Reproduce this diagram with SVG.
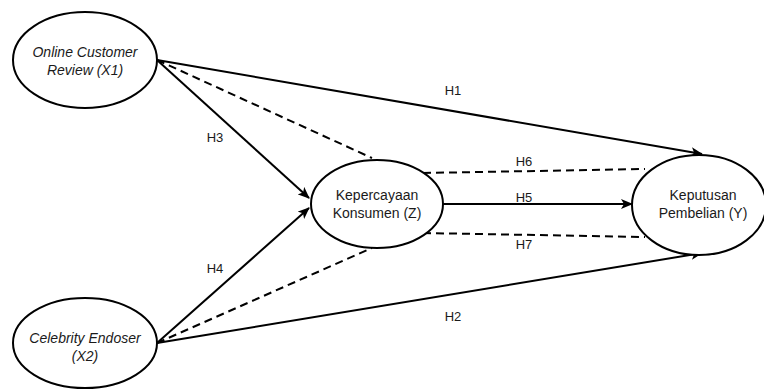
<svg xmlns="http://www.w3.org/2000/svg" width="764" height="389" viewBox="0 0 764 389">
<style>
.node{fill:#fff;stroke:#000;stroke-width:2}
.t{font-family:"Liberation Sans",Arial,sans-serif;font-size:14px;fill:#1a1a1a;text-anchor:middle}
.it{font-style:italic}
.lbl{font-family:"Liberation Sans",Arial,sans-serif;font-size:13px;fill:#1a1a1a;text-anchor:middle}
.ln{stroke:#000;stroke-width:2;fill:none}
.arr{marker-end:url(#ah)}
.dash{stroke-dasharray:8 5}
</style>
<defs>
<marker id="ah" viewBox="0 0 12 10" refX="11" refY="5" markerWidth="12" markerHeight="10" markerUnits="userSpaceOnUse" orient="auto">
<path d="M0,0 L12,5 L0,10 L3,5 z" fill="#000"/>
</marker>
</defs>
<rect width="764" height="389" fill="#fff"/>
<g id="connectors">
<line class="ln arr" x1="157" y1="60" x2="702" y2="154"/>
<line class="ln arr" x1="157" y1="60" x2="309" y2="198"/>
<line class="ln dash" x1="157" y1="60" x2="372" y2="158"/>
<line class="ln arr" x1="157" y1="343" x2="309" y2="208"/>
<line class="ln dash" x1="157" y1="343" x2="372" y2="248"/>
<line class="ln arr" x1="157" y1="343" x2="702" y2="253"/>
<line class="ln arr" x1="443" y1="204" x2="632" y2="204"/>
<line class="ln dash" x1="423" y1="173" x2="645" y2="169"/>
<line class="ln dash" x1="423" y1="233" x2="645" y2="237"/>
<text class="lbl" x="453" y="95">H1</text>
<text class="lbl" x="453" y="321">H2</text>
<text class="lbl" x="215" y="142">H3</text>
<text class="lbl" x="215" y="273">H4</text>
<text class="lbl" x="524" y="202">H5</text>
<text class="lbl" x="524" y="166">H6</text>
<text class="lbl" x="524" y="249">H7</text>
</g>
<g id="x1">
<ellipse class="node" cx="85" cy="60" rx="72" ry="48"/>
<text class="t it" x="85" y="57">Online Customer</text>
<text class="t it" x="85" y="75">Review (X1)</text>
</g>
<g id="x2">
<ellipse class="node" cx="85" cy="343" rx="72" ry="45"/>
<text class="t it" x="85" y="343">Celebrity Endoser</text>
<text class="t it" x="85" y="361">(X2)</text>
</g>
<g id="z">
<ellipse class="node" cx="377" cy="204" rx="66" ry="44"/>
<text class="t" x="377" y="200">Kepercayaan</text>
<text class="t" x="377" y="218">Konsumen (Z)</text>
</g>
<g id="y">
<ellipse class="node" cx="699" cy="205" rx="67" ry="50"/>
<text class="t" x="703" y="200">Keputusan</text>
<text class="t" x="703" y="218">Pembelian (Y)</text>
</g>
</svg>
